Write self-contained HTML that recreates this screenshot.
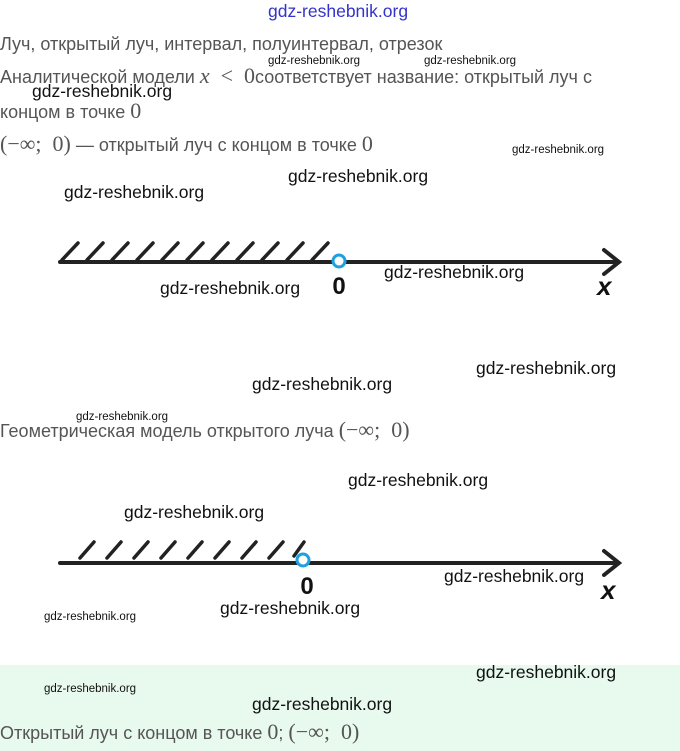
<!DOCTYPE html>
<html><head><meta charset="utf-8"><style>
body{margin:0;width:680px;height:751px;background:#fff;position:relative;overflow:hidden;font-family:"Liberation Sans",sans-serif;}
.t{position:absolute;left:0;color:#555;font-size:18px;white-space:nowrap;}
.m{font-family:"Liberation Serif",serif;font-size:22px;color:#555;}
.w{position:absolute;color:#111;font-family:"Liberation Sans",sans-serif;font-size:17.5px;white-space:nowrap;}
.ws{position:absolute;color:#111;font-size:11.5px;white-space:nowrap;}
</style></head><body>
<div style="position:absolute;left:0;top:665px;width:680px;height:86px;background:#e8f9ee"></div>
<div class="w" style="left:268px;top:1px;color:#3333cc;font-size:17.5px">gdz-reshebnik.org</div>
<div class="t" style="top:34px">Луч, открытый луч, интервал, полуинтервал, отрезок</div>
<div class="t" style="top:63px">Аналитической модели <span class="m"><i>x</i> &nbsp;&lt;&nbsp; 0</span>соответствует название: открытый луч с</div>
<div class="t" style="top:98px">концом в точке <span class="m">0</span></div>
<div class="t" style="top:131px"><span class="m">(−∞;&nbsp; 0)</span> — открытый луч с концом в точке <span class="m">0</span></div>
<div class="ws" style="left:268px;top:55px">gdz-reshebnik.org</div>
<div class="ws" style="left:424px;top:55px">gdz-reshebnik.org</div>
<div class="w" style="left:32px;top:81px">gdz-reshebnik.org</div>
<div class="ws" style="left:512px;top:144px">gdz-reshebnik.org</div>
<div class="w" style="left:288px;top:166px">gdz-reshebnik.org</div>
<div class="w" style="left:64px;top:182px">gdz-reshebnik.org</div>
<div class="w" style="left:384px;top:262px">gdz-reshebnik.org</div>
<div class="w" style="left:160px;top:278px">gdz-reshebnik.org</div>
<div class="w" style="left:476px;top:358px">gdz-reshebnik.org</div>
<div class="w" style="left:252px;top:374px">gdz-reshebnik.org</div>
<div class="ws" style="left:76px;top:411px">gdz-reshebnik.org</div>
<div class="t" style="top:417px">Геометрическая модель открытого луча <span class="m">(−∞;&nbsp; 0)</span></div>
<div class="w" style="left:348px;top:470px">gdz-reshebnik.org</div>
<div class="w" style="left:124px;top:502px">gdz-reshebnik.org</div>
<div class="w" style="left:444px;top:566px">gdz-reshebnik.org</div>
<div class="w" style="left:220px;top:598px">gdz-reshebnik.org</div>
<div class="ws" style="left:44px;top:611px">gdz-reshebnik.org</div>
<div class="w" style="left:476px;top:662px">gdz-reshebnik.org</div>
<div class="ws" style="left:44px;top:683px">gdz-reshebnik.org</div>
<div class="w" style="left:252px;top:694px">gdz-reshebnik.org</div>
<div class="t" style="top:719px">Открытый луч с концом в точке <span class="m">0</span>; <span class="m">(−∞;&nbsp; 0)</span></div>
<svg width="680" height="751" style="position:absolute;left:0;top:0" xmlns="http://www.w3.org/2000/svg">
<g stroke="#222" stroke-width="4" fill="none" stroke-linecap="round">
<line x1="60" y1="262" x2="618" y2="262"/>
<polyline points="604,250 619,262 604,274"/>
<g stroke-width="3.5">
<line x1="62" y1="260" x2="78" y2="243"/><line x1="87" y1="260" x2="103" y2="243"/><line x1="112" y1="260" x2="128" y2="243"/><line x1="137" y1="260" x2="153" y2="243"/><line x1="162" y1="260" x2="178" y2="243"/><line x1="187" y1="260" x2="203" y2="243"/><line x1="212" y1="260" x2="228" y2="243"/><line x1="237" y1="260" x2="253" y2="243"/><line x1="262" y1="260" x2="278" y2="243"/><line x1="287" y1="260" x2="303" y2="243"/><line x1="312" y1="260" x2="328" y2="243"/>
</g>
<line x1="60" y1="563" x2="618" y2="563"/>
<polyline points="604,551 619,563 604,575"/>
<g stroke-width="3.5">
<line x1="80" y1="558" x2="94" y2="542"/><line x1="107" y1="558" x2="121" y2="542"/><line x1="134" y1="558" x2="148" y2="542"/><line x1="161" y1="558" x2="175" y2="542"/><line x1="188" y1="558" x2="202" y2="542"/><line x1="215" y1="558" x2="229" y2="542"/><line x1="242" y1="558" x2="256" y2="542"/><line x1="269" y1="558" x2="283" y2="542"/><line x1="294" y1="556" x2="304" y2="542"/>
</g>
</g>
<circle cx="339" cy="261" r="6" fill="#fff" stroke="#1fa0e0" stroke-width="3"/>
<circle cx="303" cy="560" r="6" fill="#fff" stroke="#1fa0e0" stroke-width="3"/>
<text x="339" y="294" font-family="Liberation Sans" font-weight="bold" font-size="24" text-anchor="middle" fill="#111">0</text>
<text x="597" y="295" font-family="Liberation Sans" font-weight="bold" font-style="italic" font-size="26" fill="#111">x</text>
<text x="307" y="594" font-family="Liberation Sans" font-weight="bold" font-size="24" text-anchor="middle" fill="#111">0</text>
<text x="601" y="599" font-family="Liberation Sans" font-weight="bold" font-style="italic" font-size="26" fill="#111">x</text>
</svg>
</body></html>
